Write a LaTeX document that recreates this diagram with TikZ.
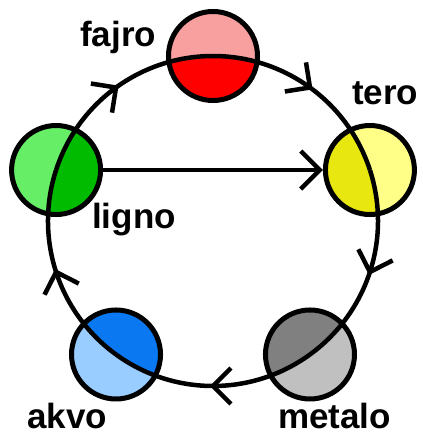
\documentclass[tikz,border=0pt]{standalone}
\usepackage{fontspec}
\setmainfont{Liberation Sans}
\usetikzlibrary{arrows.meta,decorations.markings}
\definecolor{fireL}{RGB}{248,160,160}
\definecolor{fireD}{RGB}{255,0,0}
\definecolor{earthL}{RGB}{255,255,136}
\definecolor{earthD}{RGB}{232,232,16}
\definecolor{metalL}{RGB}{192,192,192}
\definecolor{metalD}{RGB}{128,128,128}
\definecolor{waterL}{RGB}{153,204,255}
\definecolor{waterD}{RGB}{10,120,240}
\definecolor{woodL}{RGB}{102,238,102}
\definecolor{woodD}{RGB}{0,187,0}
\begin{document}
\begin{tikzpicture}
[x=1pt,y=1pt,
 barb/.tip={Straight Barb[length=19pt,width=38pt,line width=4.5pt]},
 elem/.style 2 args={circle,draw,line width=5pt,minimum size=89pt,inner sep=0pt,fill=#1,
   path picture={\fill[#2] (O) circle (165);}},
 ring/.style={line width=4.5pt,postaction={decorate},
   decoration={markings,mark=at position 0.5 with
     {\draw[line width=4.5pt] (-18pt,18pt) -- (0pt,0pt) -- (-18pt,-18pt);}}},
 lbl/.style={font=\fontsize{35}{40}\selectfont\bfseries,inner sep=0pt,anchor=base west}]
 \useasboundingbox (-213,-213) rectangle (210,221);
 \coordinate (O) at (0,0);
 \node (fajro) [elem={fireL}{fireD}] at (90:165) {};
 \node (tero) [elem={earthL}{earthD}] at (18:165) {};
 \node (metalo) [elem={metalL}{metalD}] at (-54:165) {};
 \node (akvo) [elem={waterL}{waterD}] at (-126:165) {};
 \node (ligno) [elem={woodL}{woodD}] at (162:165) {};

 \draw[ring] (ligno.center) arc[start angle=162,end angle=90,radius=165];
 \draw[ring] (fajro.center) arc[start angle=90,end angle=18,radius=165];
 \draw[ring] (tero.center) arc[start angle=18,end angle=-54,radius=165];
 \draw[ring] (metalo.center) arc[start angle=-54,end angle=-126,radius=165];
 \draw[ring] (akvo.center) arc[start angle=-126,end angle=-198,radius=165];
 \draw[line width=4.5pt,-barb] (ligno) -- (tero);

 \node (fajroT) [lbl] at (-133,174) {fajro};
 \node (teroT) [lbl] at (139,116) {tero};
 \node (lignoT) [lbl] at (-121,-7) {ligno};
 \node (akvoT) [lbl] at (-186,-207) {akvo};
 \node (metaloT) [lbl] at (65,-207) {metalo};
\end{tikzpicture}
\end{document}
